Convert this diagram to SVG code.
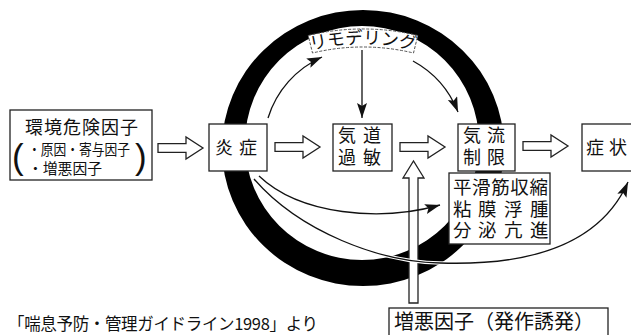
<svg xmlns="http://www.w3.org/2000/svg" width="631" height="335" viewBox="0 0 631 335">
<style>
text{font-family:"Noto Sans CJK JP","Noto Sans",sans-serif;fill:#111}
.box{fill:#fff;stroke:#222;stroke-width:1.3}
.hol{fill:#fff;stroke:#222;stroke-width:1.3;stroke-linejoin:miter}
.thin{fill:none;stroke:#111;stroke-width:1.3}
.halo{fill:none;stroke:#fff;stroke-width:3.5}
.t18{font-size:18px}
.t185{font-size:18.5px}
.paren{font-family:"Liberation Sans",sans-serif;font-size:35px}
</style>
<defs>
<marker id="ah" markerUnits="userSpaceOnUse" markerWidth="16" markerHeight="12" refX="15" refY="5" orient="auto"><path d="M0,0 L15,5 L0,10 L3,5 Z" fill="#111"/></marker>
<path id="harrow" d="M0,-4.3 H28 V-11 L45,0 L28,11 V4.3 H0 Z"/>
</defs>

<g id="ring">
<path d="M222,148 A141,138 0 1 0 504,148 A141,138 0 1 0 222,148 Z M245,143 A117,117 0 1 0 479,143 A117,117 0 1 0 245,143 Z" fill="#000" fill-rule="evenodd"/>
</g>

<g id="n-remodel">
<path d="M308.2,35.5 A233,233 0 0 1 417.8,35.5 L413.5,53 A215,215 0 0 0 312.5,53 Z" fill="#fff" stroke="#555" stroke-width="1" stroke-dasharray="3,1.5"/>
<path id="arcTxt" d="M293,55.5 A217,217 0 0 1 433,55.5" fill="none"/>
<text style="font-size:17.5px"><textPath href="#arcTxt" startOffset="50%" text-anchor="middle">リモデリング</textPath></text>
</g>

<g id="connectors">
<path class="thin" d="M268,118 A99,99 0 0 1 322,57" marker-end="url(#ah)"/>
<path class="thin" d="M413,61 A100,100 0 0 1 458,112" marker-end="url(#ah)"/>
<path class="thin" d="M362,50 V118" marker-end="url(#ah)"/>
<use href="#harrow" class="hol" transform="translate(158,148)"/>
<use href="#harrow" class="hol" transform="translate(275,147)"/>
<use href="#harrow" class="hol" transform="translate(400,147)"/>
<use href="#harrow" class="hol" transform="translate(523,146)"/>
<path class="hol" d="M409,303 V178 H403 L413.5,161 L424,178 H418 V303 Z"/>
<path class="halo" d="M254,179 C300,232 380,262 440,263 C530,266 600,245 626,186"/>
<path class="thin" d="M259,176 C300,215 380,222 440,205" marker-end="url(#ah)"/>
<path class="thin" d="M254,179 C300,232 380,262 440,263 C530,266 600,245 628,182" marker-end="url(#ah)"/>
</g>

<g id="n-env">
<rect class="box" x="10" y="110" width="142" height="70"/>
<text class="t18" x="25" y="134" textLength="113" lengthAdjust="spacing">環境危険因子</text>
<text style="font-size:14.5px" x="28" y="155" textLength="102" lengthAdjust="spacingAndGlyphs">・原因・寄与因子</text>
<text style="font-size:14.5px" x="28" y="174" textLength="74" lengthAdjust="spacingAndGlyphs">・増悪因子</text>
<text class="paren" x="12" y="169">(</text>
<text class="paren" x="135" y="169">)</text>
</g>

<g id="n-inflam">
<rect class="box" x="209" y="124" width="58" height="47"/>
<text class="t18" x="215 239" y="154">炎症</text>
</g>

<g id="n-ahr">
<rect class="box" x="333" y="124" width="59" height="47"/>
<text class="t18" x="338 363" y="142">気道</text>
<text class="t18" x="338 363" y="164">過敏</text>
</g>

<g id="n-airflow">
<rect class="box" x="458" y="124" width="57" height="47"/>
<text class="t18" x="463 487" y="142">気流</text>
<text class="t18" x="463 487" y="164">制限</text>
</g>

<g id="n-symptom">
<rect class="box" x="582" y="124" width="60" height="47"/>
<text class="t18" x="586 609" y="154">症状</text>
</g>

<g id="n-mech">
<rect class="box" x="449" y="173" width="101" height="71"/>
<text class="t185" x="453" y="194" textLength="95" lengthAdjust="spacing">平滑筋収縮</text>
<text class="t185" x="453 478 504 530" y="216">粘膜浮腫</text>
<text class="t185" x="453 478 504 530" y="237">分泌亢進</text>
</g>

<g id="n-exac">
<rect class="box" x="389" y="308" width="219" height="40"/>
<text style="font-size:20px" x="394" y="329">増悪因子（発作誘発）</text>
</g>

<g id="caption">
<text style="font-size:16.5px" x="8" y="330" textLength="310" lengthAdjust="spacing">「喘息予防・管理ガイドライン1998」より</text>
</g>
</svg>
